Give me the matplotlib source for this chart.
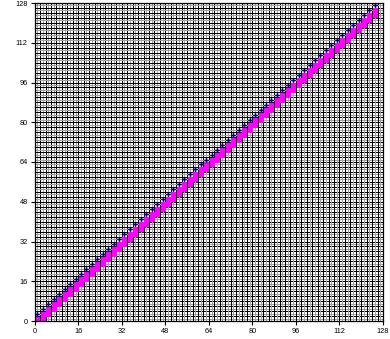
import matplotlib
matplotlib.use("Agg")
import matplotlib.pyplot as plt

x_vals = [1, 3, 5, 7, 9, 11, 13, 15, 17, 19, 21, 23, 25, 27, 29, 31,
          33, 35, 37, 39, 41, 43, 45, 47, 49, 51, 53, 55, 57, 59, 61, 63,
          65, 67, 69, 71, 73, 75, 77, 79, 81, 83, 85, 87, 89, 91, 93, 95,
          97, 99, 101, 103, 105, 107, 109, 111, 113, 115, 117, 119, 121, 123, 125]
blue_y = [3, 5, 7, 9, 11, 13, 15, 17, 19, 21, 23, 25, 27, 29, 31, 33,
          35, 37, 39, 41, 43, 45, 47, 49, 51, 53, 55, 57, 59, 61, 63, 65,
          67, 69, 71, 73, 75, 77, 79, 81, 83, 85, 87, 89, 91, 93, 95, 97,
          99, 101, 103, 105, 107, 109, 111, 113, 115, 117, 119, 121, 123, 125, 127]
magenta_y1 = [1, 3, 5, 7, 9, 11, 13, 15, 17, 19, 21, 23, 25, 27, 29, 31,
              33, 35, 37, 39, 41, 43, 45, 47, 49, 51, 53, 55, 57, 59, 61, 63,
              65, 67, 69, 71, 73, 75, 77, 79, 81, 83, 85, 87, 89, 91, 93, 95,
              97, 99, 101, 103, 105, 107, 109, 111, 113, 115, 117, 119, 121, 123, 125]
magenta_y2 = [-1, 1, 3, 5, 7, 9, 11, 13, 15, 17, 19, 21, 23, 25, 27, 29,
              31, 33, 35, 37, 39, 41, 43, 45, 47, 49, 51, 53, 55, 57, 59, 61,
              63, 65, 67, 69, 71, 73, 75, 77, 79, 81, 83, 85, 87, 89, 91, 93,
              95, 97, 99, 101, 103, 105, 107, 109, 111, 113, 115, 117, 119, 121, 123]
tick_vals = [0, 16, 32, 48, 64, 80, 96, 112, 128]

plt.rcParams['font.family'] = ['Liberation Sans', 'DejaVu Sans']

fig = plt.figure(figsize=(3.90, 3.39), dpi=100)
ax = fig.add_axes([34.7 / 390, 18.0 / 339, (383 - 34.7) / 390, (321 - 3.0) / 339])

ax.set_xlim(0, 128)
ax.set_ylim(0, 128)

ax.set_xticks(tick_vals)
ax.set_yticks(tick_vals)
ax.set_xticklabels([str(v) for v in tick_vals])
ax.set_yticklabels([str(v) for v in tick_vals])

# grid: gray every 1, black every 2
for v in range(1, 128):
    if v % 2 == 0:
        col, lw = '#000000', 0.72
    else:
        col, lw = '#a0a0a0', 0.72
    ax.axvline(v, color=col, lw=lw, zorder=1, antialiased=False)
    ax.axhline(v, color=col, lw=lw, zorder=1, antialiased=False)

ax.tick_params(axis='both', which='major', direction='out', length=3, width=0.8,
               labelsize=5.3, pad=2, colors='black')

ax.plot(x_vals, magenta_y2, linestyle='none', marker='s', markersize=3.6,
        markerfacecolor='#ff00ff', markeredgecolor='#ff00ff', markeredgewidth=0.0,
        zorder=3, clip_on=True)
ax.plot(x_vals, magenta_y1, linestyle='none', marker='s', markersize=3.6,
        markerfacecolor='#ff00ff', markeredgecolor='#ff00ff', markeredgewidth=0.0,
        zorder=3, clip_on=True)
ax.plot(x_vals, blue_y, linestyle='none', marker='P', markersize=3.4,
        markerfacecolor='#000070', markeredgecolor='#000070', markeredgewidth=0.0,
        zorder=4, clip_on=False)

for s in ax.spines.values():
    s.set_color('black')
    s.set_linewidth(0.9)
    s.set_zorder(5)

fig.savefig('out.png', dpi=100)
